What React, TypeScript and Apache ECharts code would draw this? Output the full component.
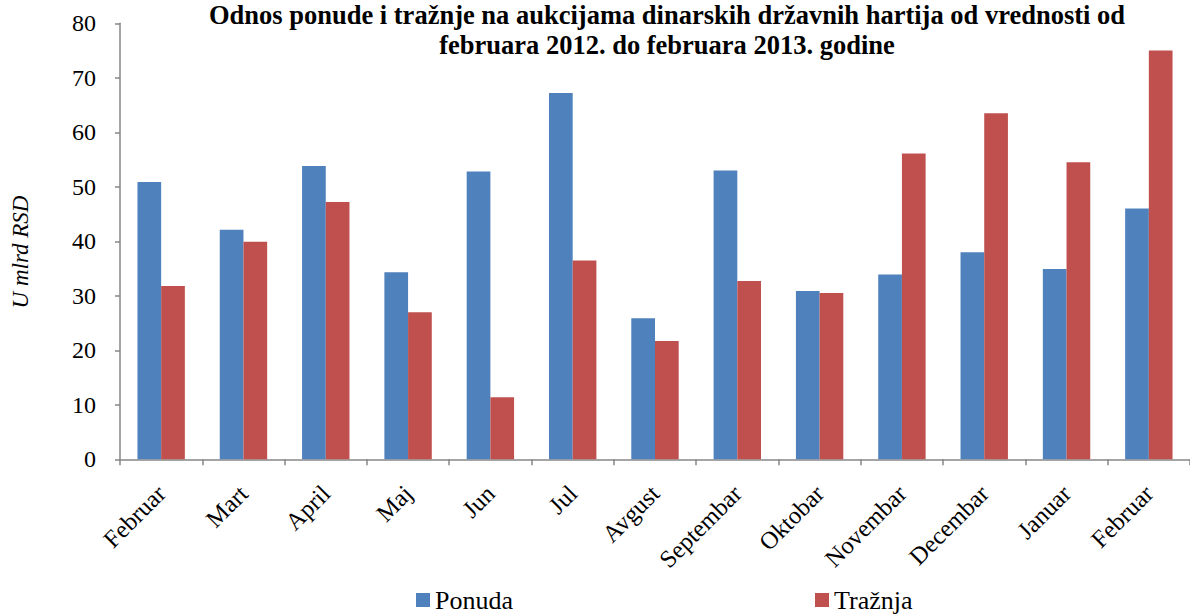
import React, { useEffect, useRef } from "react";
import * as echarts from "echarts";

const months = ["Februar", "Mart", "April", "Maj", "Jun", "Jul", "Avgust", "Septembar", "Oktobar", "Novembar", "Decembar", "Januar", "Februar"];
const ponuda = [50.9, 42.1, 53.8, 34.3, 52.8, 67.2, 25.9, 53.0, 30.9, 33.9, 38.0, 34.9, 46.0];
const traznja = [31.8, 39.9, 47.2, 27.0, 11.4, 36.5, 21.7, 32.7, 30.5, 56.1, 63.5, 54.5, 75.0];
const titleLines = ["Odnos ponude i tražnje na aukcijama dinarskih državnih hartija od vrednosti od", "februara 2012. do februara 2013. godine"];
const yAxisTitle = "U mlrd RSD";
const seriesNames = ["Ponuda", "Tražnja"];

const SERIF = "Liberation Serif";
const AXIS = "#878787";

export default function App() {
  const ref = useRef<HTMLDivElement>(null);
  useEffect(() => {
    if (!ref.current) return;
    const chart = echarts.init(ref.current, undefined, { renderer: "svg" });
    chart.setOption({
      animation: false,
      backgroundColor: "#ffffff",
      title: {
        text: titleLines.join("\n"),
        left: 667,
        top: 0,
        padding: 0,
        textAlign: "center",
        textStyle: { fontFamily: SERIF, fontSize: 26.5, fontWeight: "bold", color: "#000", lineHeight: 30 },
      },
      legend: [
        {
          data: [seriesNames[0]], left: 416, top: 587, padding: 0, itemWidth: 14, itemHeight: 14, icon: "rect",
          textStyle: { fontFamily: SERIF, fontSize: 26, color: "#000", padding: [0, 0, 0, 0] },
        },
        {
          data: [seriesNames[1]], left: 815, top: 587, padding: 0, itemWidth: 14, itemHeight: 14, icon: "rect",
          textStyle: { fontFamily: SERIF, fontSize: 26, color: "#000", padding: [0, 0, 0, 0] },
        },
      ],
      grid: { left: 120, right: -9, top: 23.3, bottom: 154.7, containLabel: false },
      xAxis: {
        type: "category",
        data: months,
        axisLine: { lineStyle: { color: AXIS, width: 1.5 } },
        axisTick: { show: true, length: 6, lineStyle: { color: AXIS, width: 1.5 } },
        axisLabel: { rotate: 45, interval: 0, margin: 30, fontFamily: SERIF, fontSize: 24.5, color: "#000" },
        splitLine: { show: false },
      },
      yAxis: {
        type: "value",
        min: 0,
        max: 80,
        interval: 10,
        axisLine: { show: true, lineStyle: { color: AXIS, width: 1.5 } },
        axisTick: { show: true, length: 5, lineStyle: { color: AXIS, width: 1.5 } },
        axisLabel: { margin: 24, fontFamily: SERIF, fontSize: 24, color: "#000" },
        splitLine: { show: false },
      },
      graphic: [
        {
          type: "text",
          x: 20,
          y: 252,
          rotation: Math.PI / 2,
          style: {
            text: yAxisTitle,
            font: `italic 23px ${SERIF}`,
            fill: "#000",
            textAlign: "center",
            textVerticalAlign: "middle",
          },
        },
      ],
      series: [
        { name: seriesNames[0], type: "bar", data: ponuda, barWidth: 23.7, barGap: "0%", itemStyle: { color: "#4F81BD" } },
        { name: seriesNames[1], type: "bar", data: traznja, barWidth: 23.7, barGap: "0%", itemStyle: { color: "#C0504D" } },
      ],
    });
    return () => chart.dispose();
  }, []);
  return <div ref={ref} style={{ position: "fixed", left: 0, top: 0, width: 1190, height: 614 }} />;
}
